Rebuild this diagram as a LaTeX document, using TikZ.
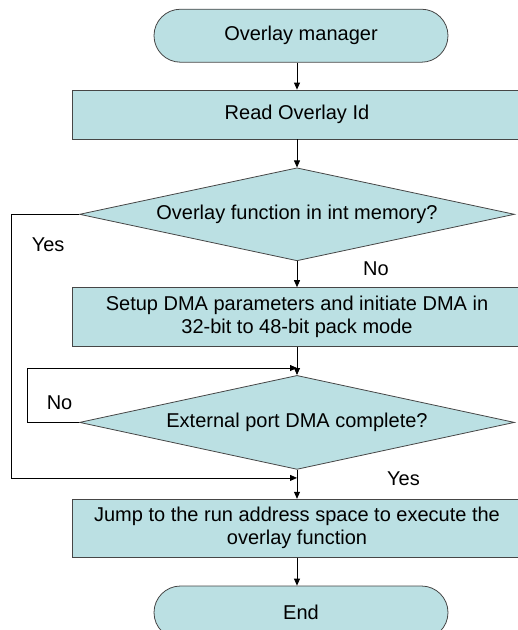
\documentclass[tikz,border=0pt]{standalone}
\usepackage{fontspec}
\setmainfont{Liberation Sans}
\usepackage{xcolor}
\usetikzlibrary{positioning,shapes.geometric,arrows.meta}
\definecolor{flowfill}{RGB}{187,224,227}
\definecolor{flowline}{RGB}{70,70,70}

\begin{document}
\begin{tikzpicture}[x=1pt,y=-1pt,
  font=\fontsize{20}{23}\selectfont,
  terminal/.style={draw=flowline,fill=flowfill,line width=0.8pt,rounded corners=26.5pt,minimum width=294pt,minimum height=53pt,inner sep=0pt},
  process/.style={draw=flowline,fill=flowfill,line width=0.8pt,minimum width=450pt,inner sep=0pt,align=center},
  decision/.style={draw=flowline,fill=flowfill,line width=0.8pt,diamond,aspect=4.68,minimum width=435pt,minimum height=93pt,inner sep=0pt},
  flow/.style={-{Triangle[length=7pt,width=6pt]},line width=0.8pt},
  lbl/.style={inner sep=0pt}]
    \useasboundingbox (0,0) rectangle (518,630);
    \clip (0,0) rectangle (518,630);
    \node [process, minimum height=49pt] (read) at (297,114.5) {Read Overlay Id};
    \node [terminal, above=27pt of read, xshift=4pt] (start) {Overlay manager};
    \node [decision, below=28pt of read] (dec1) {Overlay function in int memory?};
    \node [process, minimum height=59pt, below=26pt of dec1] (setup) {Setup DMA parameters and initiate DMA in\\32-bit to 48-bit pack mode};
    \node [decision, minimum height=94pt, below=28pt of setup] (dec2) {External port DMA complete?};
    \node [process, minimum height=58pt, below=29pt of dec2] (jump) {Jump to the run address space to execute the\\overlay function};
    \node [terminal, below=28pt of jump, xshift=4pt] (stop) {End};
    \draw[flow] (start.south -| read.north) -- (read.north);
    \draw[flow] (read) -- (dec1);
    \draw[flow] (dec1) -- (setup);
    \draw[flow] (setup) -- coordinate[pos=0.75] (nojoin) (dec2);
    \draw[flow] (dec2) -- coordinate[pos=0.28] (yesjoin) (jump);
    \draw[flow] (jump.south) -- (jump.south |- stop.north);
    \draw[flow] (dec2.west) -- ++(-52,0) coordinate (nocorner) |- (nojoin);
    \draw[flow] (dec1.west) -- ++(-67.5,0) coordinate (yescorner) |- (yesjoin);
    \node [lbl, below right=0pt and 66pt of dec1.south] (nolbl1) {No};
    \node [lbl, below right=23.5pt and 20pt of yescorner] (yeslbl1) {Yes};
    \node [lbl, above right=13pt and 19.5pt of nocorner] (nolbl2) {No};
    \node [lbl, below right=2pt and 90pt of dec2.south] (yeslbl2) {Yes};
\end{tikzpicture}
\end{document}
